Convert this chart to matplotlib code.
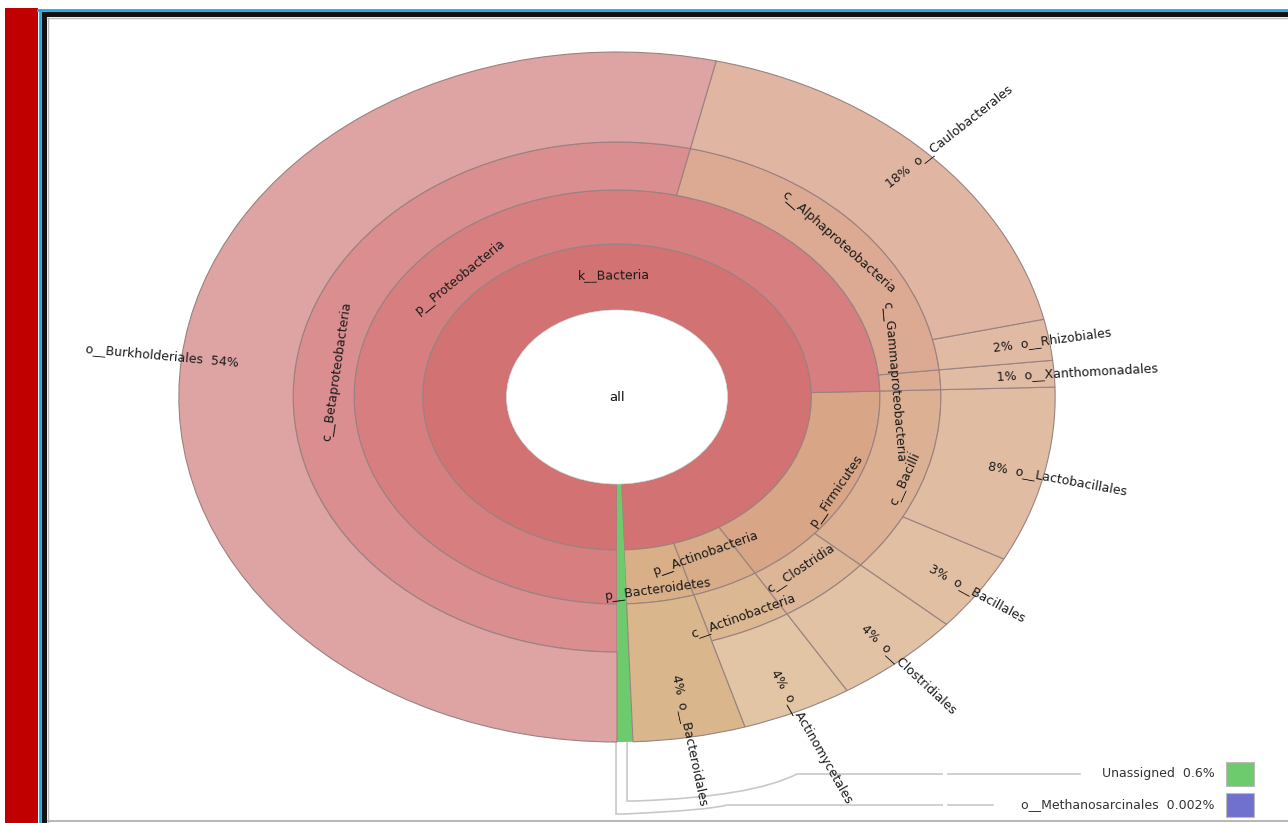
import numpy as np
import matplotlib
matplotlib.use("Agg")
import matplotlib.pyplot as plt
from matplotlib.patches import Wedge, Rectangle, PathPatch
from matplotlib.path import Path

# leaves of the Krona chart, counter-clockwise from the bottom
leaf_names = ["o__Methanosarcinales", "Unassigned", "o__Bacteroidales", "o__Actinomycetales",
              "o__Clostridiales", "o__Bacillales", "o__Lactobacillales", "o__Xanthomonadales",
              "o__Rhizobiales", "o__Caulobacterales", "o__Burkholderiales"]
leaf_share = [0.002, 0.58, 4.14, 4.08, 4.75, 3.67, 8.24, 1.24, 1.92, 17.75, 53.64]
leaf_pct = ["0.002%", "0.6%", "4%", "4%", "4%", "3%", "8%", "1%", "2%", "18%", "54%"]
leaf_class = [None, None, None, "c__Actinobacteria", "c__Clostridia", "c__Bacilli", "c__Bacilli",
              "c__Gammaproteobacteria", "c__Alphaproteobacteria", "c__Alphaproteobacteria",
              "c__Betaproteobacteria"]
leaf_phylum = [None, None, "p__Bacteroidetes", "p__Actinobacteria", "p__Firmicutes", "p__Firmicutes",
               "p__Firmicutes", "p__Proteobacteria", "p__Proteobacteria", "p__Proteobacteria",
               "p__Proteobacteria"]
leaf_kingdom = [None, None] + ["k__Bacteria"] * 9

colors = {
    "k__Bacteria": "#d27272",
    "p__Proteobacteria": "#d77f80",
    "c__Betaproteobacteria": "#da8e8f",
    "o__Burkholderiales": "#dea3a3",
    "c__Alphaproteobacteria": "#dcaa92",
    "o__Caulobacterales": "#e0b6a3",
    "o__Rhizobiales": "#e1baa4",
    "c__Gammaproteobacteria": "#dcac93",
    "o__Xanthomonadales": "#e1bca4",
    "p__Firmicutes": "#d8a586",
    "c__Bacilli": "#dcb093",
    "o__Lactobacillales": "#e0bda2",
    "o__Bacillales": "#e1bfa3",
    "c__Clostridia": "#dcb697",
    "o__Clostridiales": "#e2c2a5",
    "p__Actinobacteria": "#d8ac88",
    "c__Actinobacteria": "#dcb892",
    "o__Actinomycetales": "#e2c5a5",
    "p__Bacteroidetes": "#d8af87",
    "o__Bacteroidales": "#dab68d",
    "Unassigned": "#6dcb6d",
    "o__Methanosarcinales": "#7070cf",
}

# geometry (ring radii in vertical pixels, screenshot is stretched sideways)
SX = 1.27
CX, CY = 617, 397
W, H = 1288, 823
ring_r = [87, 153, 207, 255, 345]   # hole, kingdom, phylum, class, order
START = -90.0

# radial position of the inner (tangential) labels
label_r = {"k__Bacteria": 122, "p__Proteobacteria": 172, "c__Betaproteobacteria": 222,
           "c__Alphaproteobacteria": 233, "c__Gammaproteobacteria": 218, "c__Bacilli": 240,
           "p__Firmicutes": 196, "c__Clostridia": 224, "p__Actinobacteria": 171,
           "c__Actinobacteria": 240, "p__Bacteroidetes": 195}
leaf_label_r = {"o__Bacteroidales": 282}
EDGE = "#9a8280"
TXT = "#1a1a1a"


def disp_angle(deg):
    t = np.radians(deg)
    return np.degrees(np.arctan2(np.sin(t), SX * np.cos(t)))


def to_px(r, deg):
    t = np.radians(deg)
    return CX + SX * r * np.cos(t), CY - r * np.sin(t)


share = np.asarray(leaf_share)
angles = START + 360.0 * np.concatenate([[0], np.cumsum(share)]) / share.sum()

fig = plt.figure(figsize=(W / 100, H / 100), dpi=100)
bg = fig.add_axes([0, 0, 1, 1])
bg.set_xlim(0, W)
bg.set_ylim(H, 0)
bg.axis("off")

ax = fig.add_axes([0, 0, 1, 1])
ax.set_xlim(-CX / SX, (W - CX) / SX)
ax.set_ylim(-(H - CY), CY)
ax.axis("off")
ax.patch.set_alpha(0)

# window frame of the screenshot
bg.add_patch(Rectangle((5, 8), 33, H - 8, color="#c00000", lw=0))
bg.plot([38, W], [9.5, 9.5], color="#1ea8e8", lw=2)
bg.plot([40, 40], [9.5, H], color="#1ea8e8", lw=2)
bg.add_patch(Rectangle((42, 12), W - 42, 5, color="#111111", lw=0))
bg.add_patch(Rectangle((42, 12), 5, H - 12, color="#111111", lw=0))
bg.plot([47, W], [18, 18], color="#bbbbbb", lw=1)
bg.plot([48, 48], [18, H], color="#bbbbbb", lw=1)
bg.plot([48, W], [821, 821], color="#aaaaaa", lw=1.2)

# inner levels: group consecutive leaves
for level, names in enumerate([leaf_kingdom, leaf_phylum, leaf_class]):
    i = 0
    while i < len(names):
        j = i
        while j + 1 < len(names) and names[j + 1] == names[i]:
            j += 1
        name = names[i]
        if name is not None:
            a0, a1 = angles[i], angles[j + 1]
            ax.add_patch(Wedge((0, 0), ring_r[level + 1], a0, a1,
                               width=ring_r[level + 1] - ring_r[level],
                               facecolor=colors[name], edgecolor=EDGE, lw=0.8))
            mid = (a0 + a1) / 2
            rot = disp_angle(mid - 90) if 0 < mid < 180 else disp_angle(mid + 90)
            r = label_r[name]
            t = np.radians(mid)
            ax.text(r * np.cos(t), r * np.sin(t), name, rotation=rot,
                    rotation_mode="anchor", ha="center", va="center",
                    fontsize=9, color=TXT)
        i = j + 1

# leaves
legend_rows = []
for i, name in enumerate(leaf_names):
    lineage = [leaf_kingdom[i], leaf_phylum[i], leaf_class[i]]
    depth = max([k + 1 for k, n in enumerate(lineage) if n is not None], default=0)
    a0, a1 = angles[i], angles[i + 1]
    ax.add_patch(Wedge((0, 0), ring_r[4], a0, a1, width=ring_r[4] - ring_r[depth],
                       facecolor=colors[name], edgecolor=EDGE if leaf_share[i] > 1 else "none",
                       lw=0.8))
    mid = (a0 + a1) / 2
    if leaf_share[i] < 1:
        legend_rows.append((i, mid))
        continue
    r = leaf_label_r.get(name, 300)
    t = np.radians(mid)
    x, y = r * np.cos(t), r * np.sin(t)
    if -90 < mid < 90:
        ax.text(x, y, f"{leaf_pct[i]}  {name}", rotation=disp_angle(mid),
                rotation_mode="anchor", ha="left", va="center", fontsize=9, color=TXT)
    else:
        ax.text(x, y, f"{name}  {leaf_pct[i]}", rotation=disp_angle(mid) - 180,
                rotation_mode="anchor", ha="right", va="center", fontsize=9, color=TXT)

ax.add_patch(Wedge((0, 0), ring_r[0], 0, 360, facecolor="white", edgecolor="#dddddd", lw=0.5))
ax.text(0, 0, "all", ha="center", va="center", fontsize=9.5, color="#111111")

# legend for the slices too thin to label, with leader lines
row_y = {"Unassigned": 774, "o__Methanosarcinales": 805}
for i, mid in legend_rows:
    name = leaf_names[i]
    ly = row_y[name]
    x0, y0 = to_px(ring_r[4], mid)
    if name == "Unassigned":
        x0 += 2
        drop, bend = 801, 797
    else:
        x0 -= 1
        drop, bend = 814, 727
    verts = [(x0, y0), (x0, drop), (x0 + 8, drop), ((x0 + bend) / 2 + 40, drop - 4),
             (bend, ly), (943, ly)]
    codes = [Path.MOVETO, Path.LINETO, Path.LINETO, Path.CURVE3, Path.CURVE3, Path.LINETO]
    bg.add_patch(PathPatch(Path(verts, codes), facecolor="none", edgecolor="#c8c8c8", lw=1.2))
    end = 1080 if name == "Unassigned" else 993
    bg.plot([948, end], [ly, ly], color="#c8c8c8", lw=1.2)
    bg.text(1215, ly, f"{name}  {leaf_pct[i]}", ha="right", va="center",
            fontsize=9, color="#333333")
    bg.add_patch(Rectangle((1226, ly - 12), 28, 24, facecolor=colors[name],
                           edgecolor="#bbbbbb", lw=0.8))

fig.savefig("out.png", dpi=100)
